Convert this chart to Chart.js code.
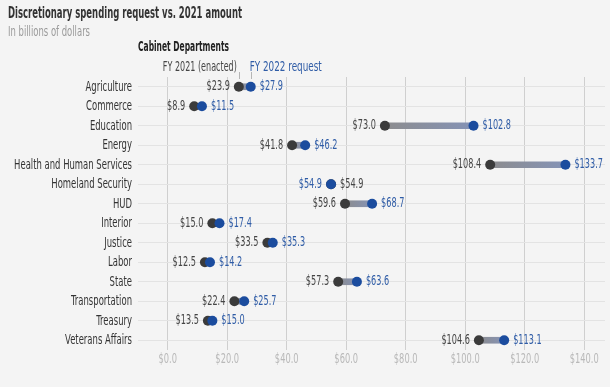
<!DOCTYPE html>
<html>
<head>
<meta charset="utf-8">
<script src="https://cdn.jsdelivr.net/npm/chart.js@4/dist/chart.umd.min.js"></script>
<style>
    html, body { margin: 0; padding: 0; background: #f4f4f4; }
    #wrap { width: 610px; height: 387px; position: relative; }
</style>
</head>
<body>
<div id="wrap"><canvas id="chart" width="610" height="387"></canvas></div>
<script>
const departments = ['Agriculture', 'Commerce', 'Education', 'Energy', 'Health and Human Services',
    'Homeland Security', 'HUD', 'Interior', 'Justice', 'Labor', 'State', 'Transportation',
    'Treasury', 'Veterans Affairs'];
const fy2021 = [23.9, 8.9, 73.0, 41.8, 108.4, 54.9, 59.6, 15.0, 33.5, 12.5, 57.3, 22.4, 13.5, 104.6];
const fy2022 = [27.9, 11.5, 102.8, 46.2, 133.7, 54.9, 68.7, 17.4, 35.3, 14.2, 63.6, 25.7, 15.0, 113.1];
const xTicks = [0, 20, 40, 60, 80, 100, 120, 140];

const FONT = "'DejaVu Sans Condensed', 'DejaVu Sans', sans-serif";
const GRAY_DOT = '#3b3b3b';
const BLUE_DOT = '#1b4c9e';
const GRAY_TXT = '#454545';
const BLUE_TXT = '#2f5ca6';

Chart.defaults.font.family = FONT;

const money = v => '$' + v.toFixed(1);

// the original uses a narrow condensed face, so squeeze text horizontally
function squeeze(ctx, sample, width) {
    return width / ctx.measureText(sample).width;
}

function drawText(ctx, text, x, y, align, sx) {
    ctx.save();
    ctx.translate(x, y);
    ctx.scale(sx, 1);
    ctx.textAlign = align;
    ctx.fillText(text, 0, 0);
    ctx.restore();
}

const annotations = {
    id: 'annotations',
    afterDatasetsDraw(chart) {
        const ctx = chart.ctx;
        const x = chart.scales.x;
        const y = chart.scales.y;
        ctx.save();
        ctx.textBaseline = 'middle';

        // cím + alcím
        ctx.font = 'bold 15px ' + FONT;
        ctx.fillStyle = '#333';
        const title = 'Discretionary spending request vs. 2021 amount';
        drawText(ctx, title, 8, 14, 'left', squeeze(ctx, title, 234));
        ctx.font = '14px ' + FONT;
        ctx.fillStyle = '#9a9a9a';
        const sub = 'In billions of dollars';
        drawText(ctx, sub, 8, 32, 'left', squeeze(ctx, sub, 82));

        ctx.font = 'bold 13.5px ' + FONT;
        ctx.fillStyle = '#222';
        const head = 'Cabinet Departments';
        drawText(ctx, head, 138, 47, 'left', squeeze(ctx, head, 91));

        const x0 = x.getPixelForValue(fy2021[0]);
        const x1 = x.getPixelForValue(fy2022[0]);
        ctx.font = '13.5px ' + FONT;
        const l0 = 'FY 2021 (enacted)';
        const l1 = 'FY 2022 request';
        ctx.fillStyle = GRAY_TXT;
        drawText(ctx, l0, x0 - 2, 67, 'right', squeeze(ctx, l0, 74));
        ctx.fillStyle = BLUE_TXT;
        drawText(ctx, l1, x1 - 1, 67, 'left', squeeze(ctx, l1, 72));
        ctx.strokeStyle = '#b5b5b5';
        ctx.lineWidth = 1;
        ctx.beginPath();
        ctx.moveTo(Math.round(x0) + 0.5, 72); ctx.lineTo(Math.round(x0) + 0.5, 79);
        ctx.moveTo(Math.round(x1) + 0.5, 72); ctx.lineTo(Math.round(x1) + 0.5, 79);
        ctx.stroke();

        // kategória feliratok
        ctx.font = '14.5px ' + FONT;
        const sCat = squeeze(ctx, 'Agriculture', 46.5);
        ctx.fillStyle = '#333';
        departments.forEach((d, i) => {
            drawText(ctx, d, x.left - 6, y.getPixelForValue(i), 'right', sCat);
        });

        // x tengely feliratok
        ctx.font = '14px ' + FONT;
        const sTick = squeeze(ctx, '$140.0', 29);
        ctx.fillStyle = '#b9b9b9';
        x.ticks.forEach(t => {
            drawText(ctx, money(t.value), x.getPixelForValue(t.value), 359, 'center', sTick);
        });

        // értékek
        ctx.font = '13.5px ' + FONT;
        const sNum = squeeze(ctx, '$102.8', 28.5);
        departments.forEach((d, i) => {
            const py = y.getPixelForValue(i);
            const a = x.getPixelForValue(fy2021[i]);
            const b = x.getPixelForValue(fy2022[i]);
            if (fy2022[i] > fy2021[i]) {
                ctx.fillStyle = GRAY_TXT;
                drawText(ctx, money(fy2021[i]), a - 9, py, 'right', sNum);
                ctx.fillStyle = BLUE_TXT;
                drawText(ctx, money(fy2022[i]), b + 9, py, 'left', sNum);
            } else {
                ctx.fillStyle = BLUE_TXT;
                drawText(ctx, money(fy2022[i]), b - 9, py, 'right', sNum);
                ctx.fillStyle = GRAY_TXT;
                drawText(ctx, money(fy2021[i]), a + 9, py, 'left', sNum);
            }
        });
        ctx.restore();
    }
};

const connectorColor = (c) => {
    const chart = c.chart;
    if (!chart.chartArea || c.dataIndex === undefined) return '#8e94a2';
    const x = chart.scales.x;
    const i = c.dataIndex;
    const g = chart.ctx.createLinearGradient(x.getPixelForValue(fy2021[i]), 0, x.getPixelForValue(fy2022[i]), 0);
    g.addColorStop(0, '#8c8c8e');
    g.addColorStop(1, '#8593b6');
    return g;
};

new Chart(document.getElementById('chart'), {
    type: 'bar',
    data: {
        labels: departments,
        datasets: [
            {
                label: 'FY 2022 request',
                type: 'line',
                indexAxis: 'y',
                data: fy2022,
                showLine: false,
                pointRadius: 5,
                pointBackgroundColor: BLUE_DOT,
                pointBorderWidth: 0,
                order: 1
            },
            {
                label: 'FY 2021 (enacted)',
                type: 'line',
                indexAxis: 'y',
                data: fy2021,
                showLine: false,
                pointRadius: 5,
                pointBackgroundColor: GRAY_DOT,
                pointBorderWidth: 0,
                order: 2
            },
            {
                label: 'change',
                data: fy2021.map((v, i) => [v, fy2022[i]]),
                backgroundColor: connectorColor,
                barThickness: 6,
                borderSkipped: false,
                order: 3
            }
        ]
    },
    options: {
        indexAxis: 'y',
        responsive: false,
        animation: false,
        layout: {padding: {top: 77, right: 3, left: 0, bottom: 0}},
        plugins: {
            legend: {display: false},
            tooltip: {enabled: false},
            title: {display: false}
        },
        scales: {
            x: {
                min: -10,
                max: 147,
                afterBuildTicks: axis => { axis.ticks = xTicks.map(v => ({value: v})); },
                afterFit: axis => { axis.height = 37; },
                grid: {color: '#cfcfcf', drawTicks: false},
                border: {display: false},
                ticks: {display: false}
            },
            y: {
                afterFit: axis => { axis.width = 138; },
                grid: {color: '#e3e3e3', drawTicks: false, offset: false},
                border: {display: false},
                ticks: {display: false}
            }
        }
    },
    plugins: [annotations]
});
</script>
</body>
</html>
